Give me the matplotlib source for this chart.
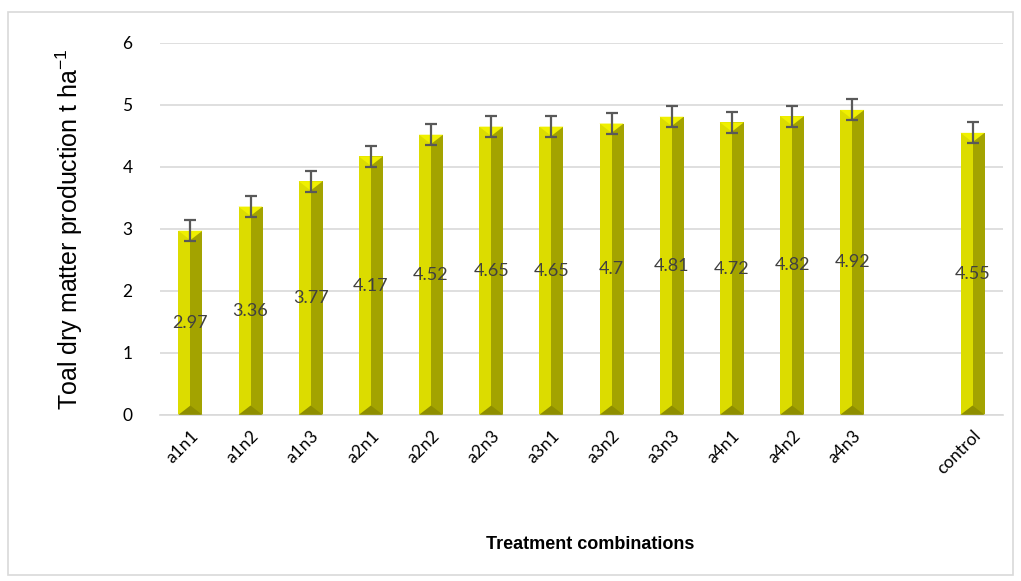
import matplotlib
matplotlib.use('Agg')
import matplotlib.pyplot as plt
from matplotlib.patches import Polygon, Rectangle
import numpy as np

plt.rcParams['font.family'] = ['Liberation Sans', 'DejaVu Sans']
plt.rcParams['mathtext.fontset'] = 'custom'
plt.rcParams['mathtext.rm'] = 'Liberation Sans'

# data
categories = ['a1n1', 'a1n2', 'a1n3', 'a2n1', 'a2n2', 'a2n3', 'a3n1', 'a3n2',
              'a3n3', 'a4n1', 'a4n2', 'a4n3', '', 'control']
values = [2.97, 3.36, 3.77, 4.17, 4.52, 4.65, 4.65, 4.70, 4.81, 4.72, 4.82, 4.92, None, 4.55]
errors = [0.17, 0.17, 0.17, 0.17, 0.17, 0.17, 0.17, 0.17, 0.17, 0.17, 0.17, 0.17, None, 0.17]
yticks = [0, 1, 2, 3, 4, 5, 6]

fig = plt.figure(figsize=(10.21, 5.81), dpi=100)
ax = fig.add_axes([0.157, 0.286, 0.825, 0.640])

# outer frame
fig.patches.append(Rectangle((8 / 1021, 6 / 581), 1005 / 1021, 563 / 581,
                             transform=fig.transFigure, fill=False,
                             edgecolor='#D9D9D9', linewidth=1.2))

w = 0.4
bev = 0.15
x = np.arange(len(categories))
for xi, v, e in zip(x, values, errors):
    if v is None:
        continue
    l, r = xi - w / 2, xi + w / 2
    ax.bar(xi - w / 4, v, width=w / 2, color='#DCDC00', zorder=2)
    ax.bar(xi + w / 4, v, width=w / 2, color='#A3A300', zorder=2)
    ax.add_patch(Polygon([[l, v], [r, v], [xi, v - bev]], closed=True,
                         facecolor='#F0F000', edgecolor='none', zorder=3))
    ax.add_patch(Polygon([[l, 0], [r, 0], [xi, bev]], closed=True,
                         facecolor='#8E8E00', edgecolor='none', zorder=3))
    ax.errorbar(xi, v, yerr=e, fmt='none', ecolor='#595959', elinewidth=1.6,
                capsize=4.5, capthick=1.6, zorder=4)
    ax.text(xi, v / 2, f'{v:g}', ha='center', va='center', fontsize=13,
            color='#404040', family='Lato', zorder=5)

ax.set_xlim(-0.5, len(categories) - 0.5)
ax.set_ylim(0, 6)
ax.set_yticks(yticks)
ax.set_xticks(x)
ax.set_xticklabels(categories, rotation=45, ha='right', rotation_mode='anchor',
                   fontsize=12.5, family='Lato')
for t in ax.get_yticklabels():
    t.set_family('Lato')
ax.tick_params(axis='y', labelsize=12.5, length=0, pad=20)
ax.tick_params(axis='x', length=0, pad=9)
ax.grid(axis='y', color='#D9D9D9', linewidth=1.2, zorder=0)
ax.set_axisbelow(True)
for s in ['top', 'right', 'left']:
    ax.spines[s].set_visible(False)
ax.spines['bottom'].set_color('#D9D9D9')
ax.spines['bottom'].set_linewidth(1.2)

ax.set_ylabel('Toal dry matter production t ha$^{\\mathregular{-1}}$', fontsize=18, labelpad=27)
fig.text(0.578, 0.063, 'Treatment combinations', ha='center', va='center',
         fontsize=13, fontweight='bold')

plt.savefig('out.png', dpi=100)
